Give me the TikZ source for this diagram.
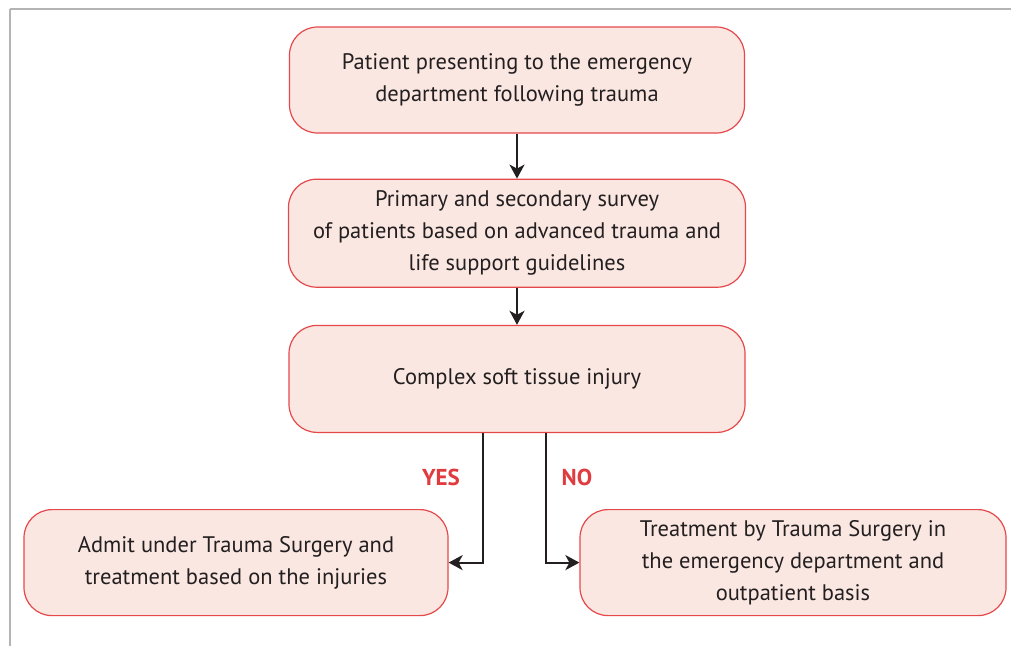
\documentclass[tikz,border=0pt]{standalone}
\usepackage{fontspec}
\setmainfont{PT Sans}
\usepackage{tikz}
\usetikzlibrary{shapes,arrows.meta,positioning}
\definecolor{boxfill}{HTML}{FAE7E1}
\definecolor{boxline}{HTML}{E5484B}
\definecolor{arrowcol}{HTML}{231F20}
\definecolor{labelred}{HTML}{E03C3F}
\definecolor{framegray}{HTML}{B4B4B4}
\tikzstyle{stepbox} = [rectangle, rounded corners=28pt, minimum height=106pt, text centered, draw=boxline, fill=boxfill, line width=1.2pt, align=center, text=arrowcol]
\tikzstyle{arrow} = [line width=2.2pt, draw=arrowcol, -{Stealth[length=14pt,width=15pt,inset=4pt]}]
\tikzstyle{answer} = [text=labelred, font=\bfseries\fontsize{23}{26}\selectfont]

\begin{document}
\begin{tikzpicture}[x=1pt, y=-1pt, font=\fontsize{22.5}{32}\selectfont] % Picture in pixel units
\useasboundingbox (0,0) rectangle (1011,646);

% Frame lines
\draw[framegray, line width=2pt] (10,9) -- (1011,9);
\draw[framegray, line width=1.5pt] (10,9) -- (10,646);

% Place the nodes on the flowchart
\node(patient)    [stepbox, minimum width=455pt]               at (517,80) {Patient presenting to the emergency\\department following trauma};
\node(survey)     [stepbox, minimum width=457pt, minimum height=108pt, below=45pt of patient] {Primary and secondary survey\\of patients based on advanced trauma and\\life support guidelines};
\node(complex)    [stepbox, minimum width=456pt, minimum height=107pt, below=37pt of survey] {Complex soft tissue injury};
\node(admit)      [stepbox, minimum width=424pt, below=76pt of complex, xshift=-281pt] {Admit under Trauma Surgery and\\treatment based on the injuries};
\node(outpatient) [stepbox, minimum width=426pt, below=76pt of complex, xshift=276pt]  {Treatment by Trauma Surgery in\\the emergency department and\\outpatient basis};
\node(yes)        [answer] at (441,477) {YES};
\node(no)         [answer] at (577,477) {NO};

% Connect the nodes with arrows
\draw [arrow] (patient)                     --  (survey);
\draw [arrow] (survey)                      --  (complex);
\draw [arrow] ([xshift=-34pt]complex.south) |-  (admit.east);
\draw [arrow] ([xshift=29pt]complex.south)  |-  (outpatient.west);

\end{tikzpicture}
\end{document}
